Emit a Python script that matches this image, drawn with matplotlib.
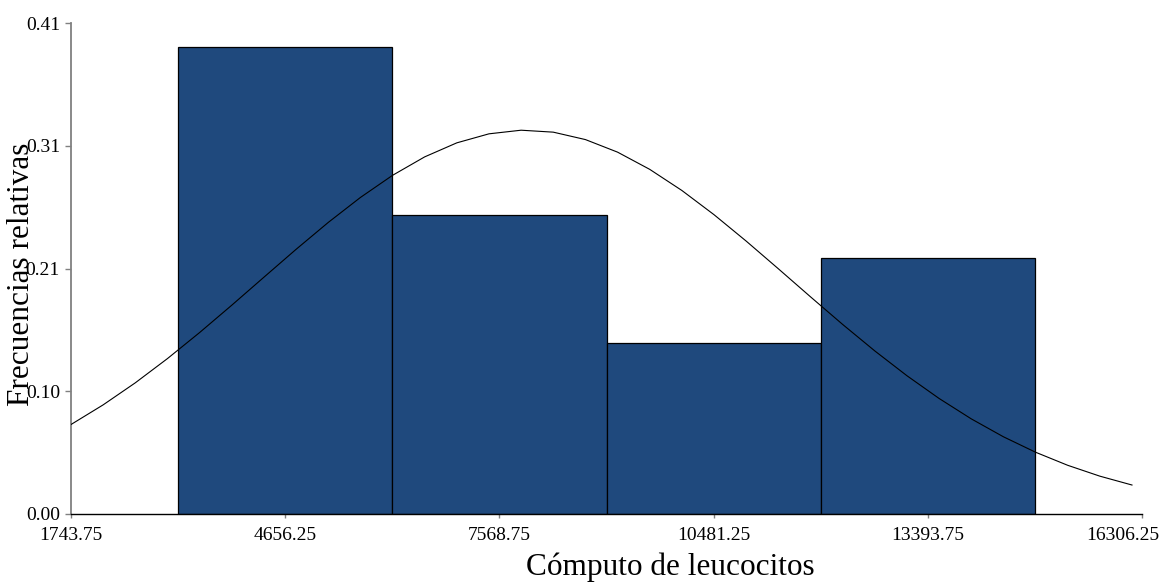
import numpy as np
import matplotlib
matplotlib.use('Agg')
import matplotlib.pyplot as plt
from matplotlib.transforms import ScaledTranslation

plt.rcParams['font.family'] = ['Liberation Serif', 'DejaVu Serif']

## == histogram data ==
bin_centers = [4656.25, 7568.75, 10481.25, 13393.75]
bin_width = 2912.5
rel_freq = [0.390, 0.250, 0.143, 0.214]

x_ticks = [1743.75, 4656.25, 7568.75, 10481.25, 13393.75, 16306.25]
y_max = 0.41
y_tick_labels = ['0.00', '0.10', '0.21', '0.31', '0.41']   # ticks at y_max/4 steps

## fitted normal (mean, sd) drawn as relative frequency per bin
fit_mean, fit_sd = 7930.0, 3625.0
curve_from, curve_to, curve_pts = 1743.75, 16170.0, 34

fig = plt.figure(figsize=(11.67, 5.82), dpi=100)
ax = fig.add_axes([71/1167, 1 - 514/582, (1142 - 71)/1167, (514 - 23)/582])

ax.bar(bin_centers, rel_freq, width=bin_width, color='#1f497d',
       edgecolor='black', linewidth=0.9, zorder=2)

xc = np.linspace(curve_from, curve_to, curve_pts)
yc = bin_width / (fit_sd*np.sqrt(2*np.pi)) * np.exp(-(xc - fit_mean)**2 / (2*fit_sd**2))
ax.plot(xc, yc, color='black', lw=0.8, zorder=3)

ax.set_xlim(x_ticks[0], x_ticks[-1])
ax.set_ylim(0, y_max)
ax.set_xticks(x_ticks)
ax.set_xticklabels(['%.2f' % v for v in x_ticks])
ax.set_yticks(np.linspace(0, y_max, len(y_tick_labels)))
ax.set_yticklabels(y_tick_labels)

for s in ('top', 'right'):
    ax.spines[s].set_visible(False)
ax.spines['left'].set_color('#808080')
ax.spines['left'].set_linewidth(1.3)
ax.spines['bottom'].set_color('black')
ax.spines['bottom'].set_linewidth(1.0)

ax.tick_params(axis='y', length=4, width=1, color='#808080', pad=4, labelsize=14)
ax.tick_params(axis='x', length=3, width=1, color='#808080', pad=6, labelsize=14)

# keep the last x label inside the figure
lbl = ax.get_xticklabels()[-1]
lbl.set_transform(lbl.get_transform() + ScaledTranslation(-19/100, 0, fig.dpi_scale_trans))

fig.text(22/1167, 1 - 274/582, 'Frecuencias relativas', rotation=90,
         ha='center', va='center', fontsize=22.5)
fig.text(670/1167, 1 - 575/582, 'Cómputo de leucocitos',
         ha='center', va='baseline', fontsize=22.5)

fig.savefig('out.png', dpi=100)
